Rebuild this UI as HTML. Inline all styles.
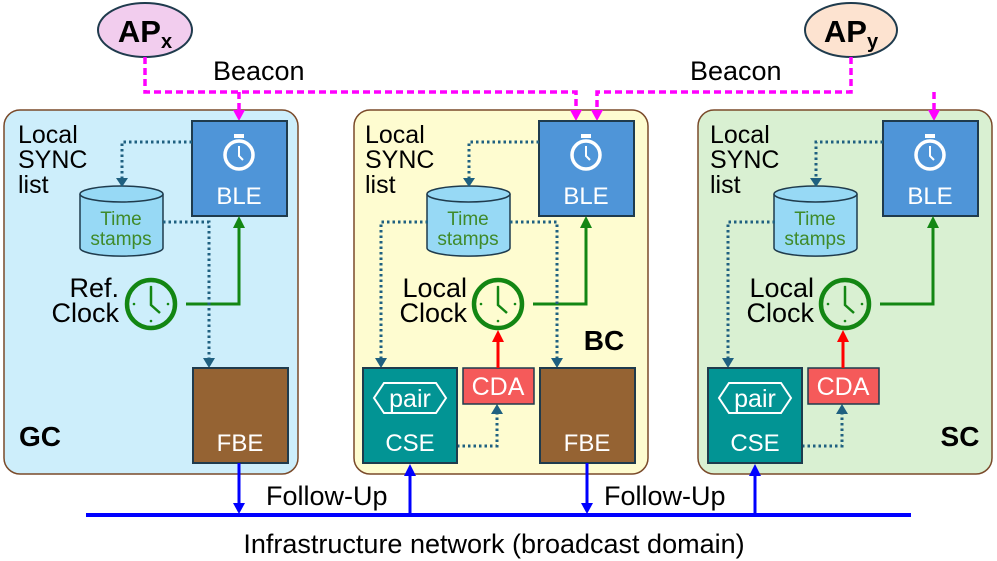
<!DOCTYPE html>
<html><head><meta charset="utf-8"><style>body{margin:0;background:#fff}svg{display:block}text{font-family:"Liberation Sans",sans-serif}</style></head><body>
<svg width="997" height="561" viewBox="0 0 997 561" xmlns="http://www.w3.org/2000/svg">
<rect x="4" y="110" width="294" height="364" rx="16" fill="#cdeefb" stroke="#7a4a2a" stroke-width="1.5"/>
<rect x="354" y="110" width="294" height="364" rx="16" fill="#fefcd0" stroke="#7a4a2a" stroke-width="1.5"/>
<rect x="698" y="110" width="294" height="364" rx="16" fill="#d9f0d2" stroke="#7a4a2a" stroke-width="1.5"/>

<ellipse cx="145" cy="30" rx="47" ry="27" fill="#f2cdee" stroke="#1f3b4d" stroke-width="2"/>
<text x="145" y="42" text-anchor="middle" font-size="31" font-weight="bold">AP<tspan font-size="20" dy="6">x</tspan></text>
<ellipse cx="851" cy="30" rx="46" ry="27" fill="#fde3d0" stroke="#1f3b4d" stroke-width="2"/>
<text x="851" y="42" text-anchor="middle" font-size="31" font-weight="bold">AP<tspan font-size="20" dy="6">y</tspan></text>

<g stroke="#f0f" stroke-width="3.5" stroke-dasharray="7,4" fill="none">
<path d="M145,57 V92 H576 V110"/>
<path d="M239,92 V112"/>
<path d="M851,57 V92 H597 V110"/>
<path d="M934,92 V112"/>
</g>
<g fill="#f0f">
<path d="M233,110 L245,110 L239,121z"/>
<path d="M570,110 L582,110 L576,121z"/>
<path d="M591,110 L603,110 L597,121z"/>
<path d="M928,110 L940,110 L934,121z"/>
</g>
<text x="213" y="80" font-size="27">Beacon</text>
<text x="690" y="80" font-size="27">Beacon</text>

<g id="common">
<text x="18" y="143" font-size="25">Local</text>
<text x="18" y="168" font-size="25">SYNC</text>
<text x="18" y="193" font-size="25">list</text>
</g>
<use href="#common" x="347"/>
<use href="#common" x="692"/>

<g id="ble">
<rect x="192" y="121" width="95" height="95" fill="#4f95d8" stroke="#1f3b4d" stroke-width="2"/>
<circle cx="239" cy="155" r="14" fill="none" stroke="#fff" stroke-width="3.5"/>
<rect x="234" y="134" width="10" height="4" fill="#fff"/>
<path d="M239,146 V156 L243,160" stroke="#fff" stroke-width="2" fill="none"/>
<text x="239" y="204" text-anchor="middle" font-size="24" fill="#fff">BLE</text>
</g>
<use href="#ble" x="347"/>
<use href="#ble" x="691"/>

<g id="cyl">
<path d="M80,194 V248 A41,8 0 0 0 163,248 V194" fill="#97d9f5" stroke="#1f3b4d" stroke-width="1.5"/>
<ellipse cx="121.5" cy="194" rx="41.5" ry="8" fill="#97d9f5" stroke="#1f3b4d" stroke-width="1.5"/>
<text x="121" y="225" text-anchor="middle" font-size="19" fill="#3f8a2a">Time</text>
<text x="121" y="245" text-anchor="middle" font-size="19" fill="#3f8a2a">stamps</text>
</g>
<use href="#cyl" x="347"/>
<use href="#cyl" x="694"/>

<g id="clk">
<circle cx="151" cy="304" r="24" fill="none" stroke="#138613" stroke-width="4.5"/>
<path d="M151,288 V305 L160,313" stroke="#138613" stroke-width="2.5" fill="none"/>
<circle cx="151" cy="287" r="1.3" fill="#138613"/><circle cx="151" cy="321" r="1.3" fill="#138613"/>
<circle cx="134" cy="304" r="1.3" fill="#138613"/><circle cx="168" cy="304" r="1.3" fill="#138613"/>
<path d="M186,304 H239 V226" stroke="#138613" stroke-width="3" fill="none"/>
<path d="M233,228 L245,228 L239,216z" fill="#138613"/>
</g>
<use href="#clk" x="347"/>
<use href="#clk" x="694"/>
<text x="119" y="297" text-anchor="end" font-size="27">Ref.</text>
<text x="119" y="322" text-anchor="end" font-size="27">Clock</text>
<text x="467" y="297" text-anchor="end" font-size="27">Local</text>
<text x="467" y="322" text-anchor="end" font-size="27">Clock</text>
<text x="814" y="297" text-anchor="end" font-size="27">Local</text>
<text x="814" y="322" text-anchor="end" font-size="27">Clock</text>

<g stroke="#1f6080" stroke-width="3" stroke-dasharray="2.5,3" fill="none">
<path d="M192,142 H122 V180"/><path d="M539,142 H469 V180"/><path d="M883,142 H816 V180"/>
<path d="M163,222 H209 V360"/>
<path d="M428,222 H381 V360"/><path d="M510,222 H557 V360"/>
<path d="M775,222 H728 V360"/>
<path d="M457,446 H497 V414"/><path d="M802,446 H842 V414"/>
</g>
<g fill="#1f6080">
<path d="M116,178 L128,178 L122,187z"/><path d="M463,178 L475,178 L469,187z"/><path d="M810,178 L822,178 L816,187z"/>
<path d="M203,358 L215,358 L209,368z"/>
<path d="M375,358 L387,358 L381,368z"/><path d="M551,358 L563,358 L557,368z"/><path d="M722,358 L734,358 L728,368z"/>
<path d="M491,414 L503,414 L497,404z"/><path d="M836,414 L848,414 L842,404z"/>
</g>

<rect x="193" y="368" width="95" height="95" fill="#956333" stroke="#1f3b4d" stroke-width="2"/>
<text x="240" y="451" text-anchor="middle" font-size="24" fill="#fff">FBE</text>
<rect x="540" y="368" width="95" height="95" fill="#956333" stroke="#1f3b4d" stroke-width="2"/>
<text x="587" y="451" text-anchor="middle" font-size="24" fill="#fff">FBE</text>

<g id="cse">
<rect x="363" y="368" width="94" height="95" fill="#029494" stroke="#1f3b4d" stroke-width="2"/>
<path d="M384,383 H436 L446,398 L436,413 H384 L374,398z" fill="none" stroke="#fff" stroke-width="2"/>
<text x="410" y="407" text-anchor="middle" font-size="25" fill="#fff">pair</text>
<text x="410" y="451" text-anchor="middle" font-size="24" fill="#fff">CSE</text>
<rect x="463" y="368" width="71" height="36" fill="#f55a5a" stroke="#1f3b4d" stroke-width="1.5"/>
<text x="498" y="395" text-anchor="middle" font-size="25" fill="#fff">CDA</text>
<path d="M498,368 V340" stroke="#f00" stroke-width="3"/>
<path d="M492,342 L504,342 L498,330z" fill="#f00"/>
</g>
<use href="#cse" x="345"/>

<text x="604" y="350" text-anchor="middle" font-size="28" font-weight="bold">BC</text>
<text x="40" y="446" text-anchor="middle" font-size="28" font-weight="bold">GC</text>
<text x="960" y="446" text-anchor="middle" font-size="28" font-weight="bold">SC</text>

<rect x="86" y="513" width="825" height="4" fill="#00f"/>
<g stroke="#00f" stroke-width="3">
<path d="M239,463 V505"/><path d="M587,463 V505"/>
<path d="M410,513 V474"/><path d="M755,513 V474"/>
</g>
<g fill="#00f">
<path d="M233,503 L245,503 L239,514z"/><path d="M581,503 L593,503 L587,514z"/>
<path d="M404,476 L416,476 L410,464z"/><path d="M749,476 L761,476 L755,464z"/>
</g>
<text x="266" y="505" font-size="27">Follow-Up</text>
<text x="604" y="505" font-size="27">Follow-Up</text>
<text x="494" y="553" text-anchor="middle" font-size="27">Infrastructure network (broadcast domain)</text>
</svg>
</body></html>
